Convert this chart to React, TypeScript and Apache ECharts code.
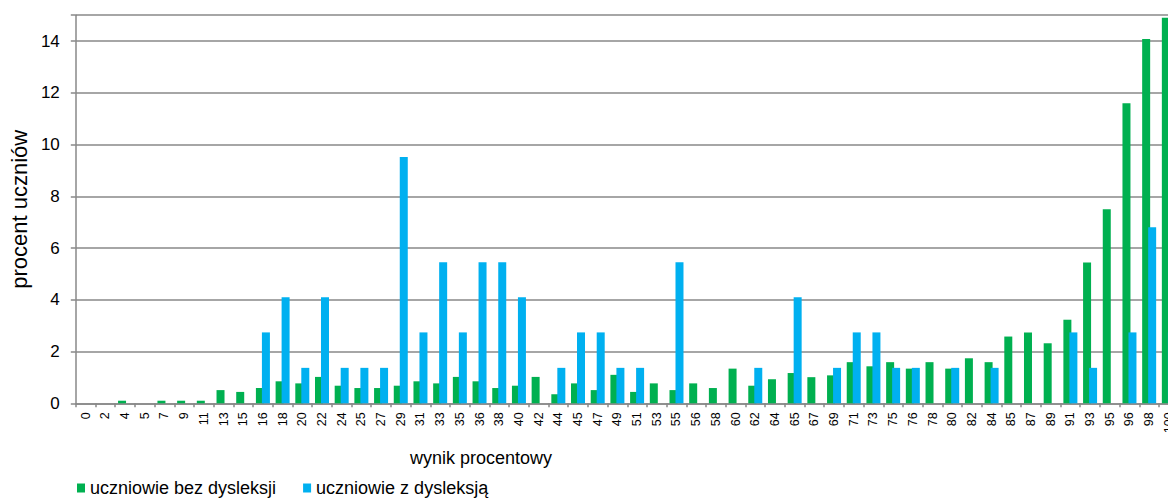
import React, { useEffect, useRef } from "react";
import * as echarts from "echarts";

const categories = ["0","2","4","5","7","9","11","13","15","16","18","20","22","24","25","27","29","31","33","35","36","38","40","42","44","45","47","49","51","53","55","56","58","60","62","64","65","67","69","71","73","75","76","78","80","82","84","85","87","89","91","93","95","96","98","100"];

const bezDysleksji = [0,0,0.1,0,0.1,0.1,0.1,0.51,0.44,0.59,0.85,0.77,1.02,0.68,0.59,0.59,0.68,0.85,0.77,1.02,0.85,0.59,0.68,1.02,0.35,0.77,0.51,1.1,0.44,0.77,0.51,0.77,0.59,1.34,0.68,0.93,1.17,1.01,1.08,1.59,1.43,1.59,1.34,1.59,1.34,1.74,1.59,2.58,2.74,2.32,3.23,5.44,7.5,11.6,14.08,14.9];

const zDysleksja = [0,0,0,0,0,0,0,0,0,2.74,4.1,1.37,4.1,1.37,1.37,1.37,9.52,2.74,5.45,2.74,5.45,5.45,4.1,0,1.37,2.74,2.74,1.37,1.37,0,5.45,0,0,0,1.37,0,4.1,0,1.37,2.74,2.74,1.37,1.37,0,1.37,0,1.37,0,0,0,2.74,1.37,0,2.74,6.8,2.74];

const yTicks = [0,2,4,6,8,10,12,14];

const FONT = "Liberation Sans";

export default function App() {
  const ref = useRef<HTMLDivElement>(null);
  useEffect(() => {
    if (!ref.current) return;
    const chart = echarts.init(ref.current, null, { renderer: "svg" });
    chart.setOption({
      animation: false,
      textStyle: { fontFamily: FONT },
      grid: { left: 72, top: 15.2, width: 1106.7, height: 388.1, containLabel: false },
      legend: {
        left: 72,
        top: 474,
        icon: "rect",
        itemWidth: 8,
        itemHeight: 9,
        itemGap: 27,
        textStyle: { fontFamily: FONT, fontSize: 18, color: "#000" },
        data: ["uczniowie bez dysleksji", "uczniowie z dysleksją"],
      },
      graphic: [
        {
          type: "text",
          left: 410,
          top: 449,
          style: { text: "wynik procentowy", fontFamily: FONT, fontSize: 18, fill: "#000" },
        },
      ],
      xAxis: {
        type: "category",
        data: categories,
        boundaryGap: true,
        axisLine: { show: true, lineStyle: { color: "#888", width: 1.5 } },
        axisTick: { show: true, length: 4, alignWithLabel: false, lineStyle: { color: "#888", width: 1.5 } },
        axisLabel: { rotate: 90, interval: 0, margin: 9, fontSize: 12.5, color: "#000", fontFamily: FONT },
        splitLine: { show: false },
      },
      yAxis: {
        type: "value",
        min: 0,
        max: 15,
        interval: 2,
        name: "procent uczniów",
        nameLocation: "middle",
        nameGap: 40,
        nameTextStyle: { fontFamily: FONT, fontSize: 22, color: "#000" },
        axisLine: { show: true, lineStyle: { color: "#888", width: 1.5 } },
        axisTick: { show: true, length: 5, lineStyle: { color: "#888", width: 1.5 } },
        axisLabel: {
          margin: 16,
          fontSize: 17,
          color: "#000",
          fontFamily: FONT,
          formatter: (v: number) => (yTicks.indexOf(v) >= 0 ? String(v) : ""),
        },
        splitLine: { show: true, lineStyle: { color: "#888", width: 1.5 } },
      },
      series: [
        {
          name: "uczniowie bez dysleksji",
          type: "bar",
          data: bezDysleksji,
          barWidth: 8,
          barGap: "-25%",
          itemStyle: { color: "#00b050" },
        },
        {
          name: "uczniowie z dysleksją",
          type: "bar",
          data: zDysleksja,
          barWidth: 8,
          barGap: "-25%",
          itemStyle: { color: "#00b0f0" },
        },
      ],
    });
    return () => chart.dispose();
  }, []);
  return (
    <div style={{ position: "fixed", left: 0, top: 0, width: 1168, height: 502, overflow: "hidden", background: "#fff" }}>
      <div ref={ref} style={{ width: 1200, height: 502 }} />
    </div>
  );
}
